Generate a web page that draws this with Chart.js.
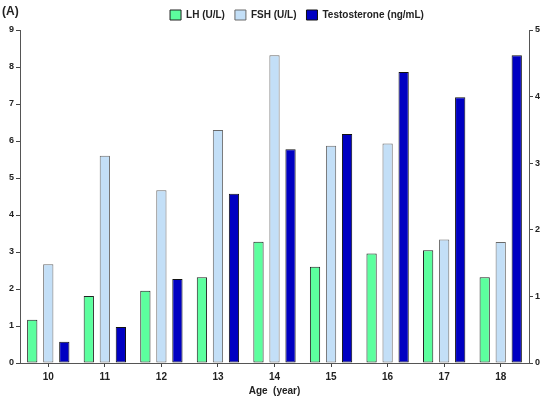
<!DOCTYPE html>
<html>
<head>
<meta charset="utf-8">
<script src="https://cdn.jsdelivr.net/npm/chart.js@4.4.1/dist/chart.umd.min.js"></script>
<style>
html,body{margin:0;padding:0;background:#fff;}
#wrap{width:550px;height:398px;position:relative;}
</style>
</head>
<body>
<div id="wrap"><canvas id="c" width="550" height="398"></canvas></div>
<script>
const ages = ['10','11','12','13','14','15','16','17','18'];
const lhValues = [1.17, 1.81, 1.95, 2.32, 3.28, 2.60, 2.96, 3.05, 2.32];
const fshValues = [2.67, 5.60, 4.67, 6.30, 8.32, 5.87, 5.93, 3.34, 3.27];
const testosteroneValues = [0.32, 0.54, 1.26, 2.54, 3.21, 3.44, 4.37, 3.99, 4.62];
const seriesNames = ['LH (U/L)', 'FSH (U/L)', 'Testosterone (ng/mL)'];
const leftTicks = [0, 9];
const rightTicks = [0, 5];

const FONT = '"Liberation Sans", Arial, sans-serif';

const panelLabel = {
  id: 'panelLabel',
  afterLayout(chart) {
    const lg = chart.legend;
    if (lg) { lg.left += 22; lg.right += 22; }
  },
  afterDraw(chart) {
    const ctx = chart.ctx;
    ctx.save();
    ctx.font = 'bold 12px ' + FONT;
    ctx.fillStyle = '#222';
    ctx.textBaseline = 'middle';
    ctx.textAlign = 'left';
    ctx.fillText('(A)', 2, 12);
    ctx.restore();
  }
};

new Chart(document.getElementById('c'), {
  type: 'bar',
  data: {
    labels: ages,
    datasets: [
      { label: seriesNames[0], data: lhValues, yAxisID: 'y', backgroundColor: '#5CFF9E', borderColor: '#222', borderWidth: 1, borderSkipped: false },
      { label: seriesNames[1], data: fshValues, yAxisID: 'y', backgroundColor: '#C3DFF7', borderColor: '#6a6a6a', borderWidth: 1, borderSkipped: false },
      { label: seriesNames[2], data: testosteroneValues, yAxisID: 'y2', backgroundColor: '#0000C2', borderColor: '#111', borderWidth: 1, borderSkipped: false }
    ]
  },
  options: {
    responsive: false,
    animation: false,
    devicePixelRatio: 1,
    categoryPercentage: 0.85,
    barPercentage: 0.64,
    layout: { padding: { left: 0, right: 0, top: 0, bottom: 0 } },
    plugins: {
      legend: {
        position: 'top',
        labels: {
          boxWidth: 11, boxHeight: 10, padding: 10,
          color: '#222',
          font: { family: FONT, size: 10, weight: 'bold' }
        }
      },
      tooltip: { enabled: false }
    },
    scales: {
      x: {
        offset: true,
        grid: { display: true, drawOnChartArea: false, drawTicks: true, tickLength: 4, offset: false, color: '#444' },
        border: { display: true, color: '#555', width: 1 },
        ticks: { color: '#222', padding: 4, font: { family: FONT, size: 10, weight: 'bold' } },
        title: { display: true, text: 'Age  (year)', color: '#222', padding: { top: 0, bottom: 1 }, font: { family: FONT, size: 10, weight: 'bold' } },
        afterFit(s) { s.height = 35; }
      },
      y: {
        position: 'left',
        min: leftTicks[0], max: leftTicks[1],
        ticks: { stepSize: 1, color: '#222', padding: 2, font: { family: FONT, size: 9, weight: 'bold' } },
        grid: { drawOnChartArea: false, drawTicks: true, tickLength: 4, color: '#444' },
        border: { display: true, color: '#555', width: 1 },
        afterFit(s) { s.width = 20; }
      },
      y2: {
        position: 'right',
        min: rightTicks[0], max: rightTicks[1],
        ticks: { stepSize: 1, color: '#222', padding: 2, font: { family: FONT, size: 9, weight: 'bold' } },
        grid: { drawOnChartArea: false, drawTicks: true, tickLength: 4, color: '#444' },
        border: { display: true, color: '#555', width: 1 },
        afterFit(s) { s.width = 21; }
      }
    }
  },
  plugins: [panelLabel]
});
</script>
</body>
</html>
